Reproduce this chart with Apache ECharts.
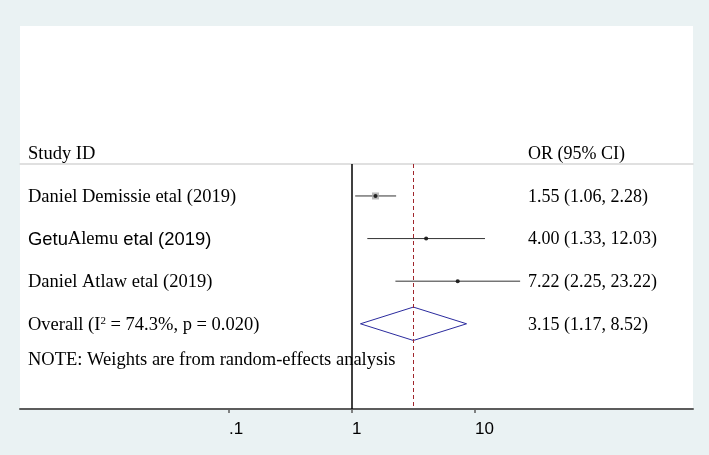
<!DOCTYPE html>
<html><head><meta charset="utf-8">
<script src="https://cdn.jsdelivr.net/npm/echarts@6/dist/echarts.min.js"></script>
<style>html,body{margin:0;padding:0;background:#eaf2f3}#c{width:709px;height:455px}</style>
</head><body><div id="c"></div>
<script>
// ---- data ----
const studies = ['Daniel Demissie etal (2019)', 'GetuAlemu etal (2019)', 'Daniel Atlaw etal (2019)'];
const orValues = [1.55, 4.00, 7.22];
const ciLower = [1.06, 1.33, 2.25];
const ciUpper = [2.28, 12.03, 23.22];
const overallOR = 3.15, overallLower = 1.17, overallUpper = 8.52;
const i2 = 74.3, pHet = 0.020;
const xTickValues = [0.1, 1, 10];
const xTickLabels = ['.1', '1', '10'];
const headerLeft = 'Study ID', headerRight = 'OR (95% CI)';
const noteText = 'NOTE: Weights are from random-effects analysis';

// ---- styles ----
const SERIF = 'Liberation Serif', SANS = 'Liberation Sans';
const boxSizes = [7, 3, 3];
const TEXT_DY = 1;
const NOTE_GAP = 0.82; // rows below overall

const chart = echarts.init(document.getElementById('c'));
const nS = studies.length;
const overallRow = nS + 1, noteRow = overallRow + NOTE_GAP;

const ciData = studies.map((s, i) => [ciLower[i], ciUpper[i], i + 1]);
const ptData = studies.map((s, i) => [orValues[i], i + 1]);

chart.setOption({
  backgroundColor: '#eaf2f3',
  animation: false,
  grid: {left: 20, right: 16, top: 164, bottom: 46},
  xAxis: [{
    type: 'log', logBase: 10, min: 0.002, max: 590, position: 'bottom',
    axisLine: {lineStyle: {color: '#5c5c5c', width: 2}},
    axisTick: {show: true, length: 4, lineStyle: {color: '#5c5c5c', width: 1.5}, customValues: xTickValues},
    axisLabel: {customValues: xTickValues, align: 'left', margin: 12, fontFamily: SANS, fontSize: 17, color: '#000',
      formatter: v => { const k = xTickValues.findIndex(t => Math.abs(Math.log10(t) - Math.log10(v)) < 1e-6); return k >= 0 ? xTickLabels[k] : ''; }},
    splitLine: {show: false}, minorTick: {show: false}
  }, {
    type: 'log', logBase: 10, min: 0.002, max: 590, position: 'top',
    axisLine: {lineStyle: {color: '#d6d6d6', width: 1.5}},
    axisTick: {show: false}, axisLabel: {show: false}, splitLine: {show: false}
  }],
  yAxis: {type: 'value', inverse: true, min: 0.25, max: 6, show: false, splitLine: {show: false}},
  series: [{
    type: 'custom', name: 'ci', data: ciData, encode: {x: [0, 1], y: 2},
    renderItem: (params, api) => {
      const a = api.coord([api.value(0), api.value(2)]);
      const b = api.coord([api.value(1), api.value(2)]);
      return {type: 'line', shape: {x1: a[0], y1: a[1], x2: b[0], y2: b[1]}, style: {stroke: '#333', lineWidth: 1}};
    }
  }, {
    type: 'scatter', name: 'box', data: ptData, symbol: 'rect',
    symbolSize: (v, p) => boxSizes[p.dataIndex], itemStyle: {color: '#a9a9a9'}
  }, {
    type: 'scatter', name: 'point', data: ptData, symbol: 'circle', symbolSize: 4,
    itemStyle: {color: '#000'},
    markLine: {silent: true, symbol: 'none', label: {show: false},
      data: [
        {xAxis: 1, lineStyle: {color: '#000', width: 1.5, type: 'solid'}},
        {xAxis: overallOR, lineStyle: {color: '#a0262c', width: 1, type: [4, 3]}}
      ]}
  }, {
    type: 'custom', name: 'overall', data: [[overallLower, overallOR, overallUpper, overallRow]],
    encode: {x: [0, 1, 2], y: 3},
    renderItem: (params, api) => {
      const l = api.coord([api.value(0), api.value(3)]);
      const c = api.coord([api.value(1), api.value(3)]);
      const r = api.coord([api.value(2), api.value(3)]);
      const h = 16.7;
      return {type: 'polygon', shape: {points: [[l[0], l[1]], [c[0], c[1] - h], [r[0], r[1]], [c[0], c[1] + h]]},
        style: {fill: 'none', stroke: '#2b2b9e', lineWidth: 1}};
    }
  }]
});

const py = r => chart.convertToPixel({yAxisIndex: 0}, r) + TEXT_DY;
const fmt = (o, l, h) => `${o.toFixed(2)} (${l.toFixed(2)}, ${h.toFixed(2)})`;
const richStyles = {
  r: {fontFamily: SERIF, fontSize: 18.5, fill: '#000'},
  s: {fontFamily: SANS, fontSize: 18.4, fill: '#000'},
  sup: {fontFamily: SERIF, fontSize: 11, fill: '#000', verticalAlign: 'top'}
};
const richOverrides = {1: '{s|Getu}{r|Alemu}{s| etal (2019)}'};
const txt = (text, x, y, size, rich) => ({
  type: 'text', x: x, y: y, z: 10,
  style: {text: text, font: `${size}px "${SERIF}"`, fill: '#000', align: 'left', verticalAlign: 'middle', rich: rich ? richStyles : undefined}
});
const LX = 28, RX = 528;
const g = [{type: 'rect', z: -10, shape: {x: 20, y: 26, width: 673, height: 382}, style: {fill: '#fff'}}];
g.push(txt(headerLeft, LX, py(0), 18.5));
g.push(txt(headerRight, RX, py(0), 18));
studies.forEach((s, i) => {
  g.push(richOverrides[i] ? txt(richOverrides[i], LX, py(i + 1), 18.5, true) : txt(s, LX, py(i + 1), 18.5));
  g.push(txt(fmt(orValues[i], ciLower[i], ciUpper[i]), RX, py(i + 1), 18));
});
g.push(txt(`{r|Overall (I}{sup|2}{r| = ${i2.toFixed(1)}%, p = ${pHet.toFixed(3)})}`, LX, py(overallRow), 18.5, true));
g.push(txt(fmt(overallOR, overallLower, overallUpper), RX, py(overallRow), 18));
g.push(txt(noteText, LX, py(noteRow), 18.5));
chart.setOption({graphic: g});
</script></body></html>
